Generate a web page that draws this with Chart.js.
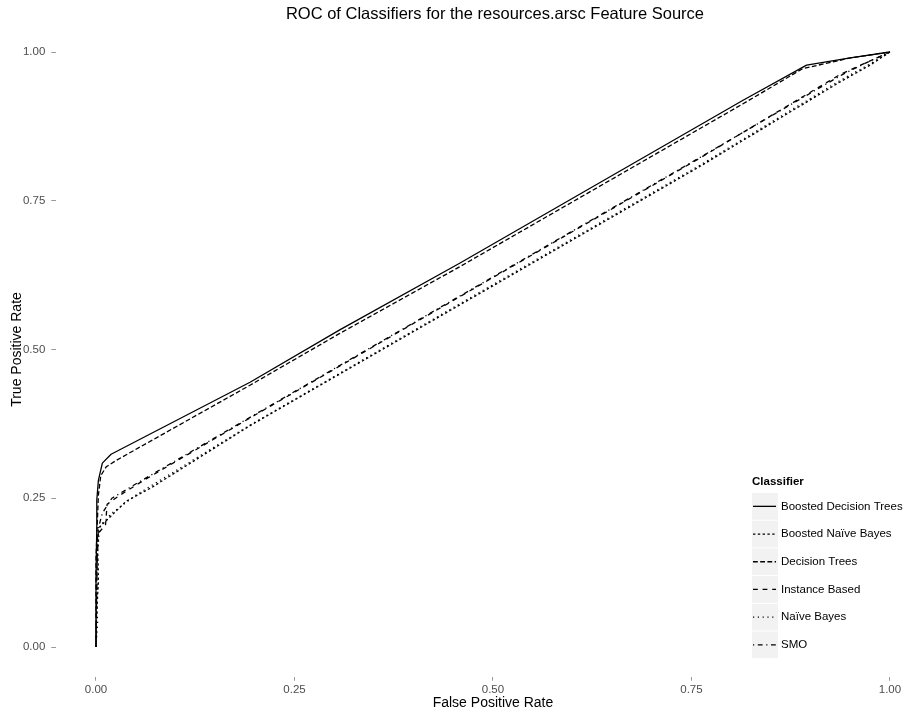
<!DOCTYPE html>
<html>
<head>
<meta charset="utf-8">
<script src="https://cdn.jsdelivr.net/npm/chart.js@4/dist/chart.umd.min.js"></script>
<style>
  html, body { margin: 0; padding: 0; background: #fff; }
  #wrap { width: 909px; height: 717px; }
</style>
</head>
<body>
<div id="wrap"><canvas id="roc" width="909" height="717"></canvas></div>
<script>
// ROC curves of six classifiers on the resources.arsc feature source
const chartTitle = 'ROC of Classifiers for the resources.arsc Feature Source';
const xTitle = 'False Positive Rate';
const yTitle = 'True Positive Rate';
const legendTitle = 'Classifier';
const classifiers = ['Boosted Decision Trees', 'Boosted Naïve Bayes', 'Decision Trees', 'Instance Based', 'Naïve Bayes', 'SMO'];

const tickValues = [0, 0.25, 0.5, 0.75, 1];
const tickLabels = ['0.00', '0.25', '0.50', '0.75', '1.00'];

// false / true positive rates per classifier
const bdtFpr = [0, 0, 0.001, 0.001, 0.003, 0.008, 0.019, 0.194, 0.307, 0.458, 0.815, 0.895, 0.95, 1];
const bdtTpr = [0, 0.12, 0.2, 0.247, 0.28, 0.309, 0.324, 0.445, 0.533, 0.645, 0.919, 0.978, 0.99, 1];

const bnbFpr = [0, 0.001, 0.003, 0.002, 0.003, 0.015, 0.038, 0.07, 0.194, 0.5, 0.761, 0.935, 0.975, 1];
const bnbTpr = [0, 0.06, 0.11, 0.16, 0.2, 0.215, 0.245, 0.268, 0.372, 0.607, 0.808, 0.948, 0.978, 1];

const dtFpr = [0, 0, 0.002, 0.003, 0.006, 0.013, 0.026, 0.194, 0.307, 0.458, 0.815, 0.89, 0.95, 1];
const dtTpr = [0, 0.15, 0.22, 0.255, 0.288, 0.303, 0.314, 0.44, 0.527, 0.639, 0.913, 0.972, 0.99, 1];

const ibFpr = [0, 0.001, 0.002, 0.012, 0.014, 0.03, 0.06, 0.194, 0.5, 0.761, 0.937, 0.975, 1];
const ibTpr = [0, 0.1, 0.19, 0.205, 0.24, 0.255, 0.28, 0.385, 0.621, 0.822, 0.962, 0.985, 1];

const nbFpr = [0, 0.002, 0.001, 0.003, 0.002, 0.004, 0.006, 0.02, 0.05, 0.194, 0.5, 0.761, 0.937, 0.975, 1];
const nbTpr = [0, 0.04, 0.08, 0.12, 0.16, 0.19, 0.205, 0.225, 0.255, 0.373, 0.609, 0.81, 0.952, 0.98, 1];

const smoFpr = [0, 0.001, 0.003, 0.008, 0.02, 0.05, 0.194, 0.5, 0.761, 0.94, 0.975, 1];
const smoTpr = [0, 0.12, 0.2, 0.225, 0.25, 0.274, 0.386, 0.622, 0.823, 0.962, 0.985, 1];

const curves = [
  [bdtFpr, bdtTpr], [bnbFpr, bnbTpr], [dtFpr, dtTpr],
  [ibFpr, ibTpr], [nbFpr, nbTpr], [smoFpr, smoTpr]
];

// line types: solid, 22, 42, 44, 13, 1343
const U = 1.2;
const dashes = [[], [2 * U, 2 * U], [4 * U, 2 * U], [4 * U, 4 * U], [1 * U, 3 * U], [1 * U, 3 * U, 4 * U, 3 * U]];

const FONT = '"Liberation Sans", Arial, Helvetica, sans-serif';
Chart.defaults.font.family = FONT;

const datasets = classifiers.map((name, i) => ({
  label: name,
  data: curves[i][0].map((x, k) => ({ x: x, y: curves[i][1][k] })),
  showLine: true,
  borderColor: '#000',
  backgroundColor: '#000',
  borderWidth: 1.3,
  borderDash: dashes[i],
  borderCapStyle: 'butt',
  borderJoinStyle: 'round',
  pointRadius: 0,
  pointHoverRadius: 0,
  tension: 0,
  fill: false
}));

// chart title, x-axis title (centred on the 0..1 span) and boxed legend
const decorations = {
  id: 'decorations',
  afterDraw(chart) {
    const ctx = chart.ctx;
    const xs = chart.scales.x;
    const mid = (xs.getPixelForValue(0) + xs.getPixelForValue(1)) / 2;
    ctx.save();
    ctx.fillStyle = '#000';
    ctx.textAlign = 'center';
    ctx.textBaseline = 'middle';
    ctx.font = '16.5px ' + FONT;
    ctx.fillText(chartTitle, mid + 2, 14);
    ctx.font = '14px ' + FONT;
    ctx.fillText(xTitle, mid, 703);

    const x0 = 752, top0 = 493, rowH = 27.7, boxW = 26, boxH = 26.7;
    ctx.textAlign = 'left';
    ctx.font = 'bold 11.5px ' + FONT;
    ctx.fillText(legendTitle, x0, 482);
    chart.data.datasets.forEach((ds, i) => {
      const y = top0 + i * rowH;
      ctx.fillStyle = '#f2f2f2';
      ctx.fillRect(x0, y, boxW, boxH);
      ctx.strokeStyle = '#000';
      ctx.lineWidth = ds.borderWidth;
      ctx.lineCap = 'butt';
      ctx.setLineDash(ds.borderDash);
      ctx.beginPath();
      ctx.moveTo(x0 + 1, y + boxH / 2);
      ctx.lineTo(x0 + boxW - 2, y + boxH / 2);
      ctx.stroke();
      ctx.setLineDash([]);
      ctx.fillStyle = '#000';
      ctx.font = '11.5px ' + FONT;
      ctx.fillText(ds.label, 781, y + boxH / 2);
    });
    ctx.restore();
  }
};

const axisTicks = (scale) => { scale.ticks = tickValues.map(v => ({ value: v })); };
const tickText = (v) => { const i = tickValues.indexOf(v); return i >= 0 ? tickLabels[i] : ''; };

new Chart(document.getElementById('roc'), {
  type: 'scatter',
  data: { datasets: datasets },
  plugins: [decorations],
  options: {
    responsive: false,
    animation: false,
    layout: { padding: { top: 22.25, right: 0, bottom: 0, left: 0 } },
    plugins: {
      legend: { display: false },
      title: { display: false },
      tooltip: { enabled: false }
    },
    scales: {
      x: {
        type: 'linear',
        min: -0.05,
        max: 1.024,
        afterBuildTicks: axisTicks,
        afterFit: (s) => { s.height = 40.25; },
        border: { display: false },
        grid: { display: true, drawOnChartArea: false, drawTicks: true, tickLength: 4, tickColor: '#999', tickWidth: 1 },
        ticks: { callback: tickText, color: '#4d4d4d', font: { size: 11.5 }, padding: 2.5, maxRotation: 0, autoSkip: false },
        title: { display: false }
      },
      y: {
        type: 'linear',
        min: -0.05,
        max: 1.05,
        afterBuildTicks: axisTicks,
        afterFit: (s) => { s.width = 56.3; },
        border: { display: false },
        grid: { display: true, drawOnChartArea: false, drawTicks: true, tickLength: 5, tickColor: '#999', tickWidth: 1 },
        ticks: { callback: tickText, color: '#4d4d4d', font: { size: 11.5 }, padding: 6, autoSkip: false },
        title: { display: true, text: yTitle, color: '#000', font: { size: 14 }, padding: { top: 8.8, bottom: 0 } }
      }
    }
  }
});
</script>
</body>
</html>
